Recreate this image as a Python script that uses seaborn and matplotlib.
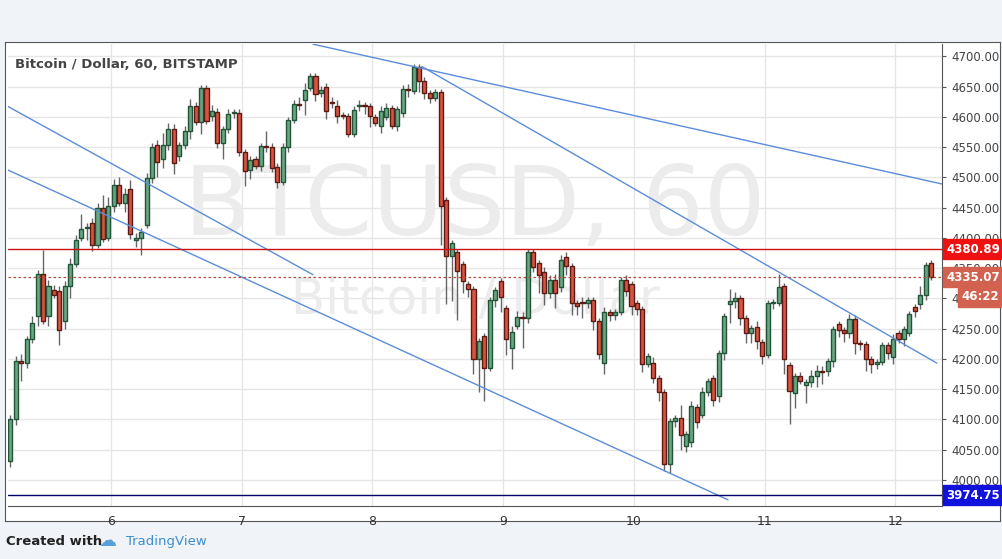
import numpy as np
import pandas as pd
import matplotlib.pyplot as plt
import seaborn as sns

# hourly candles, BTC/USD Bitstamp
opens = [4100, 4031, 4100, 4196, 4193, 4232, 4270, 4340, 4270, 4314, 4312, 4262, 4320, 4357, 4399, 4416,
         4424, 4388, 4449, 4400, 4453, 4488, 4457, 4480, 4396, 4400, 4421, 4499, 4553, 4530, 4553, 4580,
         4535, 4554, 4576, 4617, 4591, 4647, 4601, 4608, 4556, 4579, 4606, 4607, 4541, 4512, 4530, 4519,
         4551, 4550, 4517, 4493, 4550, 4594, 4621, 4628, 4647, 4667, 4640, 4650, 4624, 4617, 4603, 4602,
         4571, 4617, 4620, 4617, 4600, 4584, 4600, 4614, 4585, 4607, 4646, 4643, 4682, 4659, 4640, 4631,
         4641, 4462, 4370, 4376, 4357, 4323, 4315, 4200, 4237, 4185, 4298, 4328, 4284, 4218, 4254, 4269,
         4268, 4376, 4359, 4343, 4309, 4331, 4319, 4368, 4353, 4292, 4294, 4292, 4297, 4262, 4193, 4277,
         4273, 4277, 4331, 4324, 4293, 4283, 4191, 4193, 4168, 4145, 4027, 4098, 4103, 4056, 4062, 4120,
         4108, 4146, 4168, 4139, 4210, 4290, 4296, 4301, 4268, 4242, 4253, 4228, 4207, 4293, 4293, 4320,
         4189, 4143, 4171, 4157, 4162, 4171, 4180, 4180, 4197, 4258, 4247, 4243, 4266, 4226, 4225, 4200,
         4191, 4195, 4223, 4203, 4242, 4232, 4242, 4285, 4290, 4305, 4358]
closes = [4031, 4100, 4196, 4193, 4232, 4259, 4340, 4262, 4320, 4305, 4248, 4320, 4357, 4397, 4415, 4417,
          4388, 4449, 4398, 4453, 4488, 4457, 4473, 4406, 4400, 4409, 4499, 4550, 4526, 4553, 4580, 4523,
          4554, 4576, 4617, 4591, 4647, 4593, 4610, 4556, 4579, 4605, 4607, 4541, 4510, 4529, 4519, 4552,
          4550, 4516, 4493, 4550, 4594, 4621, 4620, 4645, 4667, 4638, 4645, 4609, 4623, 4601, 4602, 4571,
          4612, 4620, 4617, 4601, 4589, 4609, 4614, 4585, 4613, 4646, 4645, 4682, 4659, 4640, 4631, 4641,
          4453, 4370, 4391, 4345, 4329, 4315, 4200, 4229, 4185, 4298, 4313, 4303, 4232, 4245, 4269, 4268,
          4376, 4351, 4338, 4309, 4331, 4309, 4364, 4353, 4292, 4288, 4293, 4297, 4262, 4208, 4277, 4272,
          4277, 4331, 4312, 4288, 4283, 4191, 4205, 4168, 4145, 4027, 4098, 4103, 4074, 4075, 4122, 4095,
          4146, 4164, 4132, 4210, 4270, 4296, 4301, 4268, 4242, 4251, 4229, 4204, 4293, 4294, 4318, 4200,
          4147, 4171, 4163, 4162, 4171, 4180, 4179, 4197, 4249, 4248, 4243, 4266, 4226, 4225, 4200, 4191,
          4195, 4223, 4210, 4233, 4232, 4250, 4274, 4279, 4305, 4355, 4336]
wick_hi = [5, 8, 8, 12, 5, 12, 6, 40, 10, 8, 8, 8, 10, 8, 25, 8,
           8, 8, 22, 15, 10, 12, 10, 15, 8, 8, 8, 6, 8, 20, 10, 8,
           5, 8, 12, 8, 6, 6, 10, 6, 6, 8, 6, 6, 5, 6, 5, 5,
           25, 6, 6, 6, 6, 6, 12, 10, 6, 6, 6, 6, 8, 10, 5, 5,
           6, 8, 5, 5, 5, 8, 8, 5, 5, 6, 8, 6, 6, 6, 5, 5,
           5, 5, 5, 5, 5, 5, 5, 5, 5, 5, 5, 5, 5, 10, 10, 8,
           5, 5, 5, 8, 8, 10, 8, 8, 5, 6, 8, 5, 5, 5, 8, 5,
           5, 5, 8, 5, 5, 5, 5, 10, 5, 5, 5, 5, 20, 5, 8, 5,
           8, 5, 5, 5, 5, 20, 10, 5, 5, 5, 10, 5, 5, 5, 22, 5,
           5, 5, 8, 5, 10, 10, 8, 5, 5, 5, 5, 8, 6, 5, 5, 5,
           5, 5, 5, 8, 5, 5, 5, 5, 15, 5, 5]
wick_lo = [40, 10, 10, 30, 8, 5, 15, 5, 15, 5, 25, 12, 20, 5, 5, 20,
           10, 5, 5, 5, 10, 5, 15, 8, 12, 28, 5, 8, 25, 15, 8, 18,
           8, 8, 12, 5, 20, 5, 8, 8, 25, 5, 8, 5, 25, 15, 5, 8,
           8, 8, 10, 5, 8, 5, 8, 25, 5, 12, 8, 12, 8, 12, 5, 5,
           5, 8, 12, 18, 5, 10, 5, 5, 8, 8, 12, 5, 18, 10, 8, 5,
           65, 80, 75, 80, 20, 12, 25, 55, 55, 5, 12, 25, 25, 35, 5, 50,
           8, 8, 30, 20, 8, 25, 8, 15, 20, 15, 25, 8, 15, 8, 18, 10,
           8, 5, 8, 15, 10, 12, 5, 8, 15, 12, 15, 10, 25, 10, 8, 10,
           5, 8, 10, 10, 12, 30, 12, 12, 15, 15, 12, 12, 5, 10, 5, 25,
           55, 25, 5, 30, 8, 18, 20, 8, 10, 12, 15, 8, 18, 10, 20, 15,
           8, 5, 10, 12, 5, 10, 5, 10, 8, 8, 5]

first_hour = 5.19  # day of first candle
resistance = 4380.89
last_price = 4335.07
support = 3974.75
trend_lines = [  # (x0, y0, x1, y1) in day / price
    (7.546, 4720, 12.355, 4489),
    (8.379, 4683, 12.316, 4193),
    (5.214, 4617, 7.546, 4339),
    (5.214, 4512, 10.72, 3967),
]
day_ticks = [6, 7, 8, 9, 10, 11, 12]
price_ticks = [4000, 4050, 4100, 4150, 4200, 4250, 4300, 4350, 4400, 4450,
               4500, 4550, 4600, 4650, 4700]

df = pd.DataFrame({"open": opens, "close": closes})
df["t"] = first_hour + np.arange(len(df)) / 24
df["high"] = df[["open", "close"]].max(axis=1) + wick_hi
df["low"] = df[["open", "close"]].min(axis=1) - wick_lo
df["up"] = df["close"] >= df["open"]

sns.set_style("white")
plt.rcParams["font.family"] = ["DejaVu Sans"]

fig = plt.figure(figsize=(10.02, 5.59), dpi=100)
fig.patch.set_facecolor("#f0f3f7")
# white chart panel with frame
panel = fig.add_axes([0.005, 0.068, 0.993, 0.857])
panel.set_xticks([]); panel.set_yticks([])
for s in panel.spines.values():
    s.set_color("#555555")
ax = fig.add_axes([0.008, 0.095, 0.932, 0.826])

green, green_e = "#6ba583", "#225437"
red, red_e = "#d75442", "#5b1a13"
w = 0.75 / 24
for _, r in df.iterrows():
    fc, ec = (green, green_e) if r["up"] else (red, red_e)
    ax.vlines(r["t"], r["low"], r["high"], color="#666666", lw=1, zorder=2)
    h = max(abs(r["close"] - r["open"]), 1.2)
    ax.bar(r["t"], h, bottom=min(r["open"], r["close"]), width=w,
           color=fc, edgecolor=ec, lw=1, zorder=3)

for x0, y0, x1, y1 in trend_lines:
    ax.plot([x0, x1], [y0, y1], color="#5b8dd9", lw=1, zorder=4)
ax.axhline(resistance, color="#cc1111", lw=1, zorder=4)
ax.axhline(last_price, color="#b94a3a", lw=0.9, ls=(0, (2, 2)), zorder=4)
ax.axhline(support, color="#000066", lw=1, zorder=4)

ax.set_xlim(5.214, 12.355)
ax.set_ylim(3957, 4720)
ax.set_xticks(day_ticks)
ax.set_xticklabels([str(d) for d in day_ticks], fontsize=9, color="#333333")
ax.yaxis.tick_right()
ax.set_yticks(price_ticks)
ax.set_yticklabels([f"{p:.2f}" for p in price_ticks], fontsize=8.5, color="#444444")
ax.tick_params(axis="both", length=3, color="#555555")
ax.grid(True, color="#e6e6e6", lw=1, zorder=0)
ax.set_axisbelow(True)
for s in ["top", "left"]:
    ax.spines[s].set_visible(False)
for s in ["right", "bottom"]:
    ax.spines[s].set_color("#555555")

# watermark
ax.text(0.5, 0.645, "BTCUSD, 60", transform=ax.transAxes, ha="center", va="center",
        fontsize=70, color="#ececec", zorder=1)
ax.text(0.5, 0.445, "Bitcoin / Dollar", transform=ax.transAxes, ha="center", va="center",
        fontsize=36, color="#ececec", zorder=1)
ax.text(0.008, 0.97, "Bitcoin / Dollar, 60, BITSTAMP", transform=ax.transAxes,
        ha="left", va="top", fontsize=9.5, fontweight="semibold", color="#444444")

# price tags on the right scale
def tag(y, label, color, dy=0, dx=3):
    ax.annotate(label, xy=(1.0, y), xycoords=("axes fraction", "data"),
                xytext=(dx, dy), textcoords="offset points", ha="left", va="center",
                fontsize=8.5, color="white", fontweight="bold",
                bbox=dict(boxstyle="square,pad=0.3", fc=color, ec=color), zorder=10)

tag(resistance, "4380.89", "#ee1111")
tag(last_price, "4335.07", "#d26150")
tag(last_price, "46:22", "#d26150", dy=-14, dx=14)
tag(support, "3974.75", "#1111dd")

fig.text(0.006, 0.032, "Created with", fontsize=9.5, color="#222222", va="center",
         fontweight="semibold")
fig.text(0.098, 0.032, "☁", fontsize=13, color="#5aa0d8", va="center")
fig.text(0.126, 0.032, "TradingView", fontsize=9.5, color="#3d8ed0", va="center")

fig.savefig("out.png", dpi=100, facecolor=fig.get_facecolor())
